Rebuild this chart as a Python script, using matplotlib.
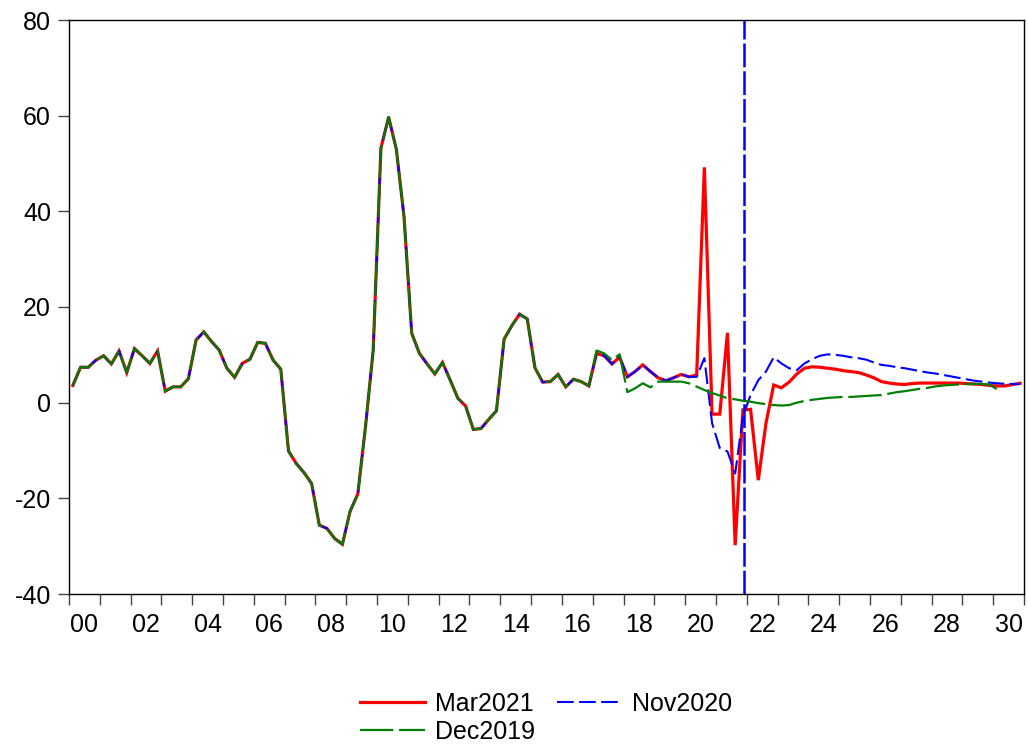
import matplotlib
matplotlib.use("Agg")
import matplotlib.pyplot as plt
import numpy as np

plt.rcParams['font.family'] = ['Liberation Sans', 'DejaVu Sans']
plt.rcParams['axes.unicode_minus'] = False

# Quarterly data 2000Q1 .. 2030Q4
start_year = 2000
history = [3.6, 7.4, 7.4, 8.9, 9.8, 8.1, 10.8, 6.3, 11.3, 9.8,
           8.2, 10.8, 2.4, 3.3, 3.3, 5.0, 13.1, 14.8, 12.8, 11.0,
           7.2, 5.3, 8.2, 9.1, 12.6, 12.4, 8.9, 7.0, -10.1, -12.7,
           -14.6, -16.9, -25.6, -26.3, -28.4, -29.6, -22.7, -19.1, -5.0, 11.0,
           53.2, 59.7, 53.0, 38.9, 14.5, 10.3, 8.1, 6.0, 8.4, 4.7,
           0.9, -0.7, -5.6, -5.4, -3.5, -1.7, 13.3, 16.1, 18.5, 17.5,
           7.3, 4.3, 4.4, 5.9, 3.3, 4.9, 4.4, 3.5]

mar2021_tail = [10.3, 9.8, 8.1, 9.5, 5.4, 6.5, 7.9, 6.5, 5.2, 4.6,
                5.2, 5.9, 5.4, 5.8, 49.2, -2.4, -2.4, 14.6, -29.8, -1.5,
                -1.4, -16.2, -4.3, 3.7, 3.1, 4.3, 6.0, 7.2, 7.5, 7.4,
                7.2, 7.0, 6.7, 6.5, 6.3, 5.8, 5.2, 4.4, 4.1, 3.9,
                3.8, 4.0, 4.1, 4.1, 4.1, 4.1, 4.1, 4.1, 4.0, 3.9,
                3.8, 3.6, 3.5, 3.5, 3.8, 4.05]

nov2020_tail = [10.3, 9.8, 8.1, 9.5, 5.4, 6.5, 7.9, 6.5, 5.2, 4.6,
                5.2, 5.9, 5.4, 5.4, 9.3, -4.3, -9.5, -10.2, -14.8, -2.9,
                1.6, 4.7, 6.5, 9.5, 8.2, 7.2, 6.8, 8.2, 9.1, 9.8,
                10.1, 10.0, 9.8, 9.5, 9.3, 9.0, 8.4, 7.9, 7.7, 7.4,
                7.2, 6.9, 6.6, 6.3, 6.1, 5.8, 5.5, 5.2, 4.9, 4.6,
                4.4, 4.2, 4.05, 3.95, 3.9, 3.9]

dec2019_tail = [10.9, 10.3, 8.9, 10.1, 2.2, 3.0, 4.05, 3.2, 4.4, 4.4,
                4.4, 4.4, 4.05, 3.35, 2.65, 2.0, 1.5, 0.9, 0.7, 0.4,
                0.2, -0.1, -0.3, -0.5, -0.6, -0.5, 0.0, 0.35, 0.6, 0.8,
                1.0, 1.1, 1.2, 1.2, 1.3, 1.4, 1.5, 1.6, 1.9, 2.2,
                2.4, 2.65, 2.9, 3.1, 3.4, 3.6, 3.7, 3.8, 3.9, 3.9,
                3.9, 3.8, 2.8]

labels = ["Mar2021", "Nov2020", "Dec2019"]
vline_date = 2021.9
xtick_labels = ["00", "02", "04", "06", "08", "10", "12", "14", "16",
                "18", "20", "22", "24", "26", "28", "30"]

mar2021 = np.array(history + mar2021_tail)
nov2020 = np.array(history + nov2020_tail)
dec2019 = np.array(history + dec2019_tail)

def qx(n):
    return start_year + (np.arange(n) + 0.5) / 4.0

fig = plt.figure(figsize=(10.28, 7.48), dpi=100)
ax = fig.add_axes([69/1028, 1 - 594/748, (1024-69)/1028, (594-20)/748])

l1, = ax.plot(qx(len(mar2021)), mar2021, color='#ff0000', lw=2.3, label=labels[0],
              solid_joinstyle='miter')
l2, = ax.plot(qx(len(nov2020)), nov2020, color='#0000ff', lw=1.5, label=labels[1],
              dashes=(8, 2.6))
l3, = ax.plot(qx(len(dec2019)), dec2019, color='#008000', lw=1.6, label=labels[2],
              dashes=(15, 2.6))

ax.axvline(vline_date, color='#0000ff', lw=1.8, dashes=(9.5, 1.6))

ax.set_xlim(2000, 2031)
ax.set_ylim(-40, 80)
ax.set_yticks(np.arange(-40, 81, 20))
ax.set_xticks(np.arange(2000, 2032, 1))
ax.set_xticklabels([])
ax.set_xticks(np.arange(2000.5, 2031, 2), minor=True)
ax.set_xticklabels(xtick_labels, minor=True)

ax.tick_params(axis='both', which='major', direction='out', length=8,
               width=1, color='#444444', labelsize=18)
ax.tick_params(axis='y', pad=5)
ax.tick_params(axis='x', which='minor', length=0, labelsize=18, pad=14)
for s in ax.spines.values():
    s.set_linewidth(1.0)
    s.set_color('black')

fig.legend(handles=[l1, l3, l2], labels=[labels[0], labels[2], labels[1]],
           loc='center', bbox_to_anchor=(546/1028, 1 - 718/748), ncol=2,
           frameon=False, fontsize=18, handlelength=2.6, handletextpad=0.4,
           columnspacing=0.9, labelspacing=0.15, borderpad=0.2)

fig.savefig("out.png", dpi=100)
